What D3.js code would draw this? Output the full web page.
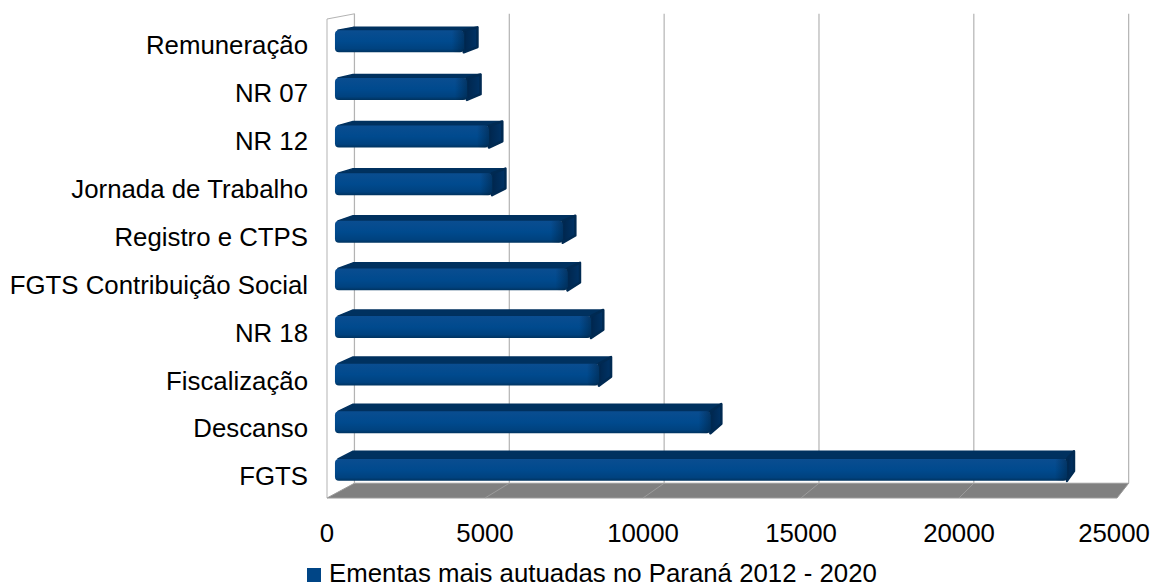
<!DOCTYPE html>
<html><head><meta charset="utf-8">
<script src="https://cdn.jsdelivr.net/npm/d3@7"></script>
<style>html,body{margin:0;padding:0;background:#fff}svg{display:block}</style>
</head><body>
<script>
const categories = ["Remuneração","NR 07","NR 12","Jornada de Trabalho","Registro e CTPS","FGTS Contribuição Social","NR 18","Fiscalização","Descanso","FGTS"];
const values = [4100, 4200, 4900, 5000, 7250, 7400, 8150, 8400, 11950, 23300];
const tickValues = [0, 5000, 10000, 15000, 20000, 25000];
const seriesName = "Ementas mais autuadas no Paraná 2012 - 2020";

const W = 1154, H = 586;
const svg = d3.select("body").append("svg").attr("width", W).attr("height", H);
const font = "'Liberation Sans', Arial, sans-serif";
const fs = 25.8;

const x = d3.scaleLinear().domain([0, 25000]).range([327, 1117]);
const y = d3.scaleBand().domain(categories).range([19, 498]).paddingInner(0.54).paddingOuter(0.27);
const yTop = 19, yBot = 498;

// simple perspective: t=0 front plane, t=1 back wall
const V = {x: 1700, y: -240}, K = 0.02;
function P(xf, yf, t) { return [xf + K * t * (V.x - xf), yf + K * t * (V.y - yf)]; }
const line = d3.line();

const defs = svg.append("defs");
const gFront = defs.append("linearGradient").attr("id", "gf").attr("x1", 0).attr("y1", 0).attr("x2", 0).attr("y2", 1);
gFront.append("stop").attr("offset", 0).attr("stop-color", "#0a4d90");
gFront.append("stop").attr("offset", 0.5).attr("stop-color", "#004a8e");
gFront.append("stop").attr("offset", 0.85).attr("stop-color", "#00427f");
gFront.append("stop").attr("offset", 1).attr("stop-color", "#00335f");
const gEnd = defs.append("linearGradient").attr("id", "ge").attr("x1", 0).attr("y1", 0).attr("x2", 1).attr("y2", 0);
gEnd.append("stop").attr("offset", 0).attr("stop-color", "#001a33").attr("stop-opacity", 0);
gEnd.append("stop").attr("offset", 1).attr("stop-color", "#001a33").attr("stop-opacity", 0.45);
const gSide = defs.append("linearGradient").attr("id", "gs").attr("x1", 0).attr("y1", 0).attr("x2", 1).attr("y2", 0);
gSide.append("stop").attr("offset", 0).attr("stop-color", "#00264d");
gSide.append("stop").attr("offset", 1).attr("stop-color", "#003366");

// floor
const floorPts = [P(x(0), yBot, 0), P(x(25000), yBot, 0), P(x(25000), yBot, 1), P(x(0), yBot, 1)];
svg.append("path").attr("d", line(floorPts) + "Z").attr("fill", "#808080").attr("stroke", "#9a9a9a").attr("stroke-width", 1);
svg.append("g").selectAll("path").data(tickValues.slice(1, -1)).join("path")
  .attr("d", d => line([P(x(d), yBot, 1), P(x(d), yBot, 0)]))
  .attr("stroke", "#9c9c9c").attr("stroke-width", 1).attr("fill", "none");

// left wall outline
const wallPts = [P(x(0), yBot, 0), P(x(0), yTop, 0), P(x(0), yTop, 1), P(x(0), yBot, 1)];
svg.append("path").attr("d", line(wallPts)).attr("fill", "none").attr("stroke", "#b3b3b3").attr("stroke-width", 1);

// back wall grid lines
svg.append("g").selectAll("path").data(tickValues).join("path")
  .attr("d", d => line([P(x(d), yTop, 1), P(x(d), yBot, 1)]))
  .attr("stroke", "#b3b3b3").attr("stroke-width", 1.2).attr("fill", "none");

// bars
const t0 = 0.29, t1 = 0.84;
const bars = svg.append("g").selectAll("g").data(categories.map((c, i) => ({c, v: values[i]}))).join("g");
bars.each(function(d) {
  const g = d3.select(this);
  const ya = y(d.c), yb = y(d.c) + y.bandwidth();
  const xa = x(0), xb = x(d.v);
  g.append("path").attr("d", line([P(xa + 3, ya, t0), P(xb, ya, t0), P(xb, ya, t1), P(xa + 3, ya, t1)]) + "Z")
    .attr("fill", "#00315f").attr("stroke", "#00315f").attr("stroke-width", 1.5).attr("stroke-linejoin", "round");
  g.append("path").attr("d", line([P(xb, ya, t0), P(xb, ya, t1), P(xb, yb - 2, t1), P(xb, yb, t0)]) + "Z")
    .attr("fill", "url(#gs)").attr("stroke", "#002a52").attr("stroke-width", 2.5).attr("stroke-linejoin", "round");
  const f0 = P(xa, ya, t0), f1 = P(xb, yb, t0);
  g.append("rect").attr("x", f0[0]).attr("y", f0[1]).attr("width", f1[0] - f0[0]).attr("height", f1[1] - f0[1])
    .attr("rx", 4).attr("fill", "url(#gf)");
  g.append("rect").attr("x", f1[0] - 12).attr("y", f0[1]).attr("width", 12).attr("height", f1[1] - f0[1])
    .attr("rx", 3).attr("fill", "url(#ge)");
});

// category labels
svg.append("g").selectAll("text").data(categories).join("text")
  .attr("x", 308).attr("y", d => y(d) + y.bandwidth() / 2 + 2)
  .attr("dy", "0.36em").attr("text-anchor", "end")
  .attr("font-family", font).attr("font-size", fs).attr("fill", "#000").text(d => d);

// x tick labels
svg.append("g").selectAll("text").data(tickValues).join("text")
  .attr("x", d => x(d) - (d === 25000 ? 3 : 0)).attr("y", 533).attr("dy", "0.36em").attr("text-anchor", "middle")
  .attr("font-family", font).attr("font-size", fs).attr("fill", "#000").text(d => d);

// legend
svg.append("rect").attr("x", 307).attr("y", 568).attr("width", 14).attr("height", 14).attr("fill", "#004586");
svg.append("text").attr("x", 329).attr("y", 582).attr("font-family", font).attr("font-size", fs).attr("fill", "#000").text(seriesName);
</script>
</body></html>
